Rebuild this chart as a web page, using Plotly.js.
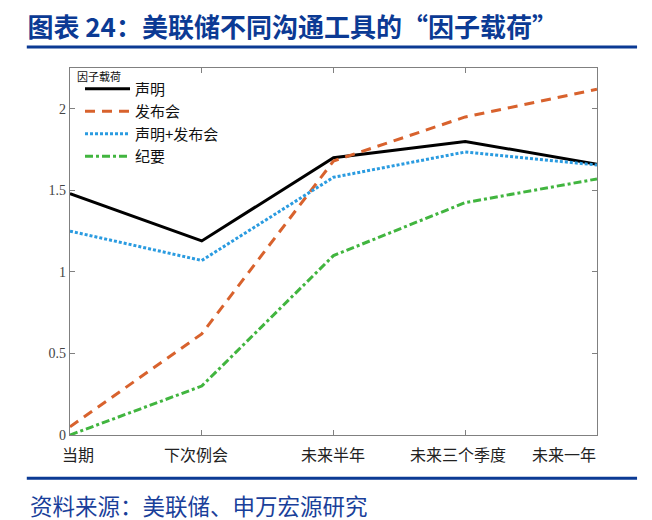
<!DOCTYPE html>
<html>
<head>
<meta charset="utf-8">
<script src="https://cdn.plot.ly/plotly-3.0.1.min.js"></script>
<style>
  html, body { margin: 0; padding: 0; background: #fff; }
  #chart { width: 652px; height: 520px; }
</style>
</head>
<body>
<div id="chart"></div>
<script>
// horizon categories (x positions 0..4)
const horizons = ['当期', '下次例会', '未来半年', '未来三个季度', '未来一年'];
const xIndex = [0, 1, 2, 3, 4];

// factor loadings
const statement = [1.48, 1.19, 1.70, 1.80, 1.66];
const pressConf = [0.05, 0.62, 1.68, 1.95, 2.12];
const stmtPlusPress = [1.25, 1.07, 1.58, 1.735, 1.655];
const minutes = [0.00, 0.30, 1.10, 1.425, 1.57];

const yTicks = [0, 0.5, 1, 1.5, 2];
const yTickText = ['0', '0.5', '1', '1.5', '2'];

const navy = '#0b3a94';
const cjk = '"Noto Sans CJK SC", "Noto Sans", sans-serif';

const data = [
    {x: xIndex, y: statement, name: '声明', type: 'scatter', mode: 'lines',
     line: {color: '#000000', width: 3}},
    {x: xIndex, y: pressConf, name: '发布会', type: 'scatter', mode: 'lines',
     line: {color: '#d8622d', width: 3, dash: '10px,7px'}},
    {x: xIndex, y: stmtPlusPress, name: '声明+发布会', type: 'scatter', mode: 'lines',
     line: {color: '#2a9be0', width: 3, dash: '3px,2px'}},
    {x: xIndex, y: minutes, name: '纪要', type: 'scatter', mode: 'lines',
     line: {color: '#41b53f', width: 3, dash: '8px,3px,3px,3px'}}
];

// x labels drawn as annotations so the end labels can sit inside the frame
const labelShift = [8, -6, -1, -7, -33];
const xLabels = horizons.map((t, i) => ({
    text: t, x: xIndex[i], xref: 'x', y: -0.052, yref: 'paper',
    xanchor: 'center', yanchor: 'middle', xshift: labelShift[i],
    showarrow: false, font: {family: cjk, size: 16, color: '#222'}
}));

const layout = {
    width: 652,
    height: 520,
    margin: {l: 70, r: 55, t: 68, b: 85},
    paper_bgcolor: '#ffffff',
    plot_bgcolor: '#ffffff',
    showlegend: true,
    title: {
        text: '<b>图表 24：美联储不同沟通工具的“因子载荷”</b>',
        font: {family: cjk, size: 26, color: navy},
        xref: 'container', x: 0.042, xanchor: 'left',
        yref: 'container', y: 0.946, yanchor: 'middle'
    },
    xaxis: {
        range: [0, 4],
        tickvals: [1, 2, 3],
        showticklabels: false,
        ticks: 'inside', ticklen: 5, tickcolor: '#808080',
        showline: true, linecolor: '#808080', linewidth: 1.2,
        mirror: 'ticks', showgrid: false, zeroline: false
    },
    yaxis: {
        range: [0, 2.25],
        tickvals: yTicks, ticktext: yTickText,
        ticks: 'inside', ticklen: 5, tickcolor: '#808080',
        tickfont: {family: '"Liberation Serif", serif', size: 14, color: '#444'},
        showline: true, linecolor: '#808080', linewidth: 1.2,
        mirror: 'ticks', showgrid: false, zeroline: false
    },
    legend: {
        x: 0.019, xanchor: 'left', y: 0.988, yanchor: 'top',
        bgcolor: 'rgba(255,255,255,0)',
        itemwidth: 45,
        tracegroupgap: 0,
        font: {family: cjk, size: 15, color: '#111'}
    },
    shapes: [
        {type: 'line', xref: 'paper', yref: 'paper', x0: -0.082, x1: 1.076, y0: 1.057, y1: 1.057,
         line: {color: navy, width: 3}},
        {type: 'line', xref: 'paper', yref: 'paper', x0: -0.082, x1: 1.076, y0: -0.118, y1: -0.118,
         line: {color: navy, width: 3}}
    ],
    annotations: xLabels.concat([
        {text: '因子载荷', xref: 'paper', yref: 'paper', x: 0.01, y: 0.978,
         xanchor: 'left', yanchor: 'middle', showarrow: false,
         font: {family: cjk, size: 11, color: '#111'}},
        {text: '资料来源：美联储、申万宏源研究', xref: 'paper', yref: 'paper',
         x: -0.08, y: -0.19, xanchor: 'left', yanchor: 'middle', showarrow: false,
         font: {family: cjk, size: 22.5, color: '#1a3f9a'}}
    ])
};

Plotly.newPlot('chart', data, layout, {displayModeBar: false, staticPlot: true});
</script>
</body>
</html>
